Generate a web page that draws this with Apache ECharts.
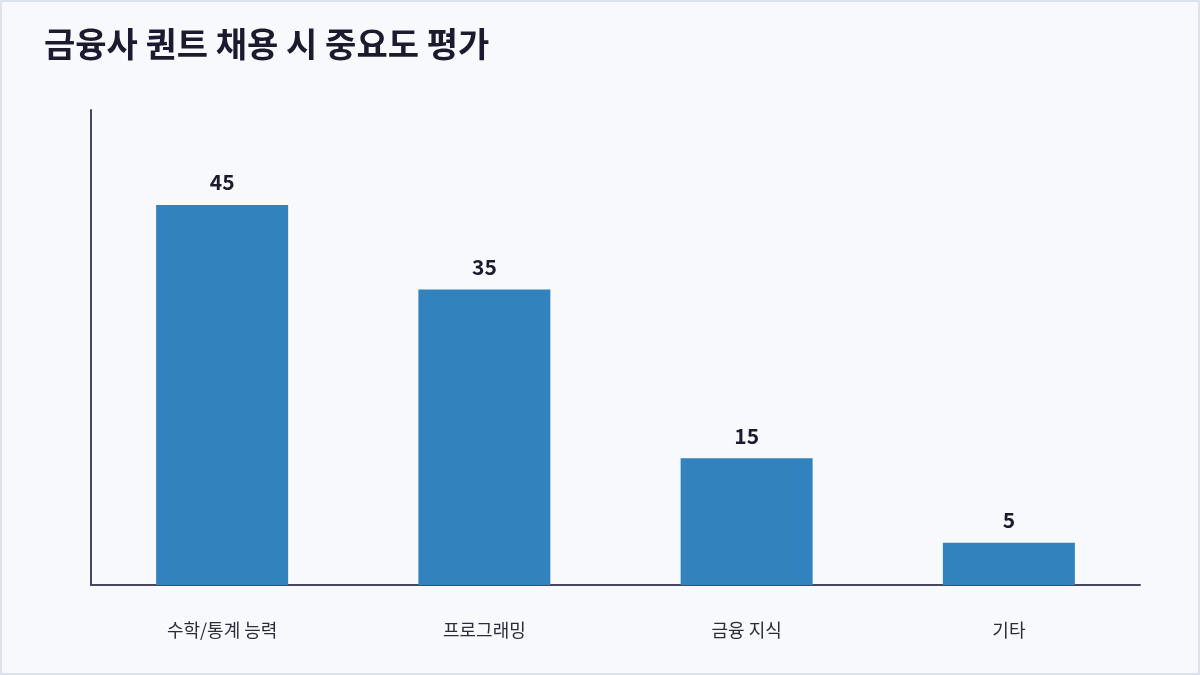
<!DOCTYPE html>
<html>
<head>
<meta charset="utf-8">
<script src="https://cdn.jsdelivr.net/npm/echarts@6/dist/echarts.min.js"></script>
<style>
  html, body { margin: 0; padding: 0; background: #f8f9fd; }
  #chart { width: 1200px; height: 675px; }
</style>
</head>
<body>
<div id="chart"></div>
<script>
// 데이터
var categories = ['수학/통계 능력', '프로그래밍', '금융 지식', '기타'];
var scores = [45, 35, 15, 5];

var font = '"Noto Sans CJK KR", "Noto Sans", sans-serif';
var myChart = echarts.init(document.getElementById('chart'));

myChart.setOption({
    backgroundColor: '#f8f9fd',
    title: {
        text: '금융사 퀀트 채용 시 중요도 평가',
        left: 39,
        top: 22,
        textStyle: {
            color: '#1b1a2e',
            fontSize: 34,
            fontWeight: 'bold',
            fontFamily: font
        }
    },
    graphic: [{
        type: 'rect',
        shape: { x: 1, y: 1, width: 1198, height: 673 },
        style: { fill: 'none', stroke: '#dde3ec', lineWidth: 2 },
        silent: true
    }],
    grid: { left: 91, right: 60, top: 110, bottom: 90 },
    xAxis: {
        type: 'category',
        data: categories,
        axisLine: { lineStyle: { color: '#4a4660', width: 2 } },
        axisTick: { show: false },
        axisLabel: {
            margin: 36,
            fontSize: 18,
            color: '#2b2b3a',
            fontFamily: font
        }
    },
    yAxis: {
        type: 'value',
        min: 0,
        max: 56.25,
        axisLine: { show: true, lineStyle: { color: '#4a4660', width: 2 } },
        axisTick: { show: false },
        axisLabel: { show: false },
        splitLine: { show: false }
    },
    series: [{
        type: 'bar',
        data: scores,
        barWidth: 132,
        itemStyle: { color: '#3182bd' },
        label: {
            show: true,
            position: 'top',
            distance: 12,
            fontSize: 21,
            fontWeight: 'bold',
            color: '#1b1a2e',
            fontFamily: font
        }
    }]
});
</script>
</body>
</html>
